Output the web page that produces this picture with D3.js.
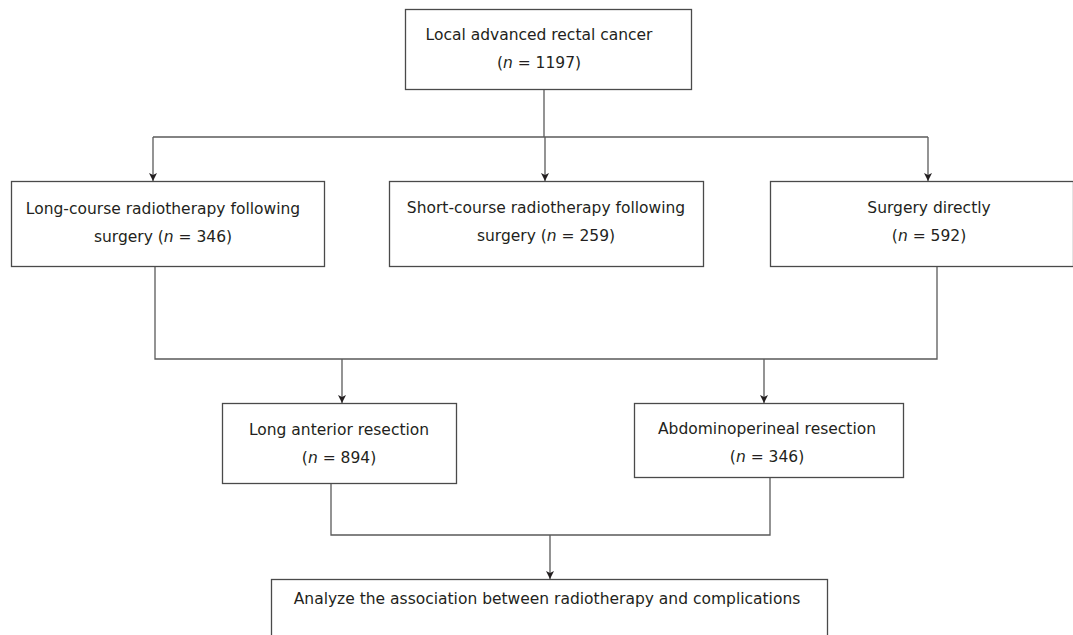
<!DOCTYPE html>
<html>
<head>
<meta charset="utf-8">
<script src="https://cdn.jsdelivr.net/npm/d3@7"></script>
<style>
  html, body { margin: 0; padding: 0; background: #fff; }
  svg { display: block; }
  text { font-family: "DejaVu Sans", sans-serif; font-size: 15.5px; fill: #231f20; }
</style>
</head>
<body>
<svg id="chart" width="1073" height="635"></svg>
<script>
// ---- data ----
const nodeIds = ["total", "longRT", "shortRT", "surgery", "lar", "apr", "analysis"];
const nodeLines1 = [
  "Local advanced rectal cancer",
  "Long-course radiotherapy following",
  "Short-course radiotherapy following",
  "Surgery directly",
  "Long anterior resection",
  "Abdominoperineal resection",
  "Analyze the association between radiotherapy and complications"
];
const nodeLines2Prefix = ["", "surgery ", "surgery ", "", "", "", null];
const nodeCounts = [1197, 346, 259, 592, 894, 346, null];

// ---- layout (positions/sizes kept separately from data) ----
const boxes = {
  total:    {x: 405, y: 9,   w: 286, h: 80, cx: 539, b1: 40,  b2: 68},
  longRT:   {x: 11,  y: 181, w: 313, h: 85, cx: 163, b1: 214, b2: 242},
  shortRT:  {x: 389, y: 181, w: 314, h: 85, cx: 546, b1: 213, b2: 241},
  surgery:  {x: 770, y: 181, w: 303, h: 85, cx: 929, b1: 213, b2: 241},
  lar:      {x: 222, y: 403, w: 234, h: 80, cx: 339, b1: 435, b2: 463},
  apr:      {x: 634, y: 403, w: 269, h: 74, cx: 767, b1: 434, b2: 462},
  analysis: {x: 271, y: 579, w: 556, h: 70, cx: 547, b1: 604, b2: null}
};
const plainLines = [
  [[544, 89], [544, 137]],
  [[153, 137], [928, 137]],
  [[155, 266], [155, 359], [937, 359], [937, 266]],
  [[331, 483], [331, 535], [770, 535], [770, 477]]
];
const arrowLines = [
  [[153, 137], [153, 181]],
  [[545, 137], [545, 181]],
  [[928, 137], [928, 181]],
  [[342, 359], [342, 403]],
  [[764, 359], [764, 403]],
  [[550, 535], [550, 579]]
];

const svg = d3.select("#chart");
const stroke = "#5a5a5a";

svg.append("defs").append("marker")
  .attr("id", "arrow")
  .attr("viewBox", "0 0 10 10")
  .attr("refX", 10).attr("refY", 5)
  .attr("markerUnits", "userSpaceOnUse")
  .attr("markerWidth", 10).attr("markerHeight", 8)
  .attr("orient", "auto")
  .append("path")
  .attr("d", "M0,0 L10,5 L0,10 L2.5,5 Z")
  .attr("fill", "#231f20");

const line = d3.line();

svg.selectAll("path.conn").data(plainLines).join("path")
  .attr("class", "conn")
  .attr("d", line)
  .attr("fill", "none").attr("stroke", stroke).attr("stroke-width", 1.3);

svg.selectAll("path.arr").data(arrowLines).join("path")
  .attr("class", "arr")
  .attr("d", line)
  .attr("fill", "none").attr("stroke", stroke).attr("stroke-width", 1.3)
  .attr("marker-end", "url(#arrow)");

const nodes = nodeIds.map((id, i) => ({
  id, l1: nodeLines1[i], pre: nodeLines2Prefix[i], n: nodeCounts[i], ...boxes[id]
}));

const g = svg.selectAll("g.node").data(nodes).join("g").attr("class", "node");

g.append("rect")
  .attr("x", d => d.x + 0.5).attr("y", d => d.y + 0.5)
  .attr("width", d => d.w).attr("height", d => d.h)
  .attr("fill", "#fff").attr("stroke", "#4a4a4a").attr("stroke-width", 1.3);

g.append("text")
  .attr("x", d => d.cx).attr("y", d => d.b1)
  .attr("text-anchor", "middle")
  .text(d => d.l1);

const t2 = g.filter(d => d.n !== null).append("text")
  .attr("x", d => d.cx).attr("y", d => d.b2)
  .attr("text-anchor", "middle");
t2.append("tspan").text(d => d.pre + "(");
t2.append("tspan").attr("font-style", "italic").text("n");
t2.append("tspan").text(d => " = " + d.n + ")");
</script>
</body>
</html>
